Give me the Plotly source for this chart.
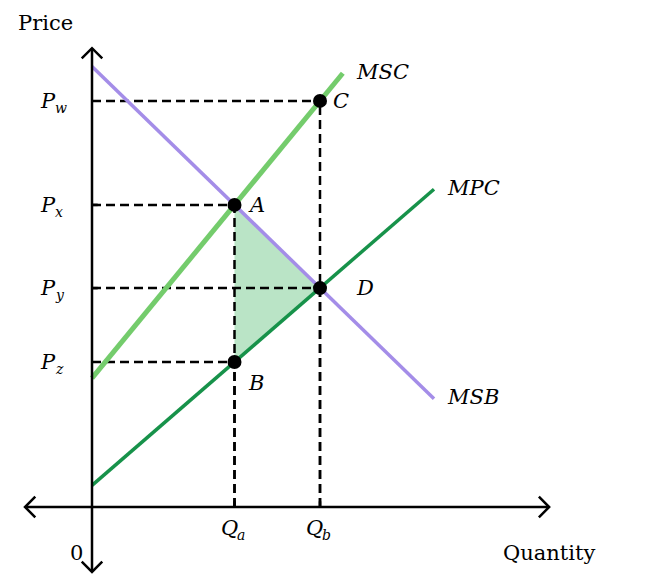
import plotly.graph_objects as go

# ---- data (diagram units) ----
quantities = {"Q_a": 5.0, "Q_b": 8.0}
prices = {"P_w": 14.25, "P_x": 10.6, "P_y": 7.68, "P_z": 5.09}

msb_x = [0.0, 12.0]
msb_y = [15.46, 3.80]
msc_x = [0.0, 8.8]
msc_y = [4.52, 15.22]
mpc_x = [0.0, 12.0]
mpc_y = [0.76, 11.15]

points = {"A": ("Q_a", "P_x"), "B": ("Q_a", "P_z"), "C": ("Q_b", "P_w"), "D": ("Q_b", "P_y")}

x_axis_extent = [-2.35, 16.04]
y_axis_extent = [-2.28, 16.1]

FONT = "DejaVu Serif"
BLACK = "#000000"
PURPLE = "#a48de8"
LIGHTGREEN = "#74cc6c"
DARKGREEN = "#17924a"
FILL = "rgba(140, 210, 160, 0.6)"

fig = go.Figure()

# welfare-loss triangle A-D-B
tri = ["A", "D", "B", "A"]
fig.add_trace(go.Scatter(
    x=[quantities[points[p][0]] for p in tri],
    y=[prices[points[p][1]] for p in tri],
    fill="toself", fillcolor=FILL, mode="lines", line=dict(width=0),
    hoverinfo="skip", showlegend=False))

# dashed guides
dash = "9px,5px"
for name, (q, p) in points.items():
    xq, yp = quantities[q], prices[p]
    fig.add_trace(go.Scatter(x=[0, xq], y=[yp, yp], mode="lines",
                             line=dict(color=BLACK, width=2.5, dash=dash),
                             hoverinfo="skip", showlegend=False))
    fig.add_trace(go.Scatter(x=[xq, xq], y=[0, yp], mode="lines",
                             line=dict(color=BLACK, width=2.5, dash=dash),
                             hoverinfo="skip", showlegend=False))

# curves
fig.add_trace(go.Scatter(x=msc_x, y=msc_y, mode="lines",
                         line=dict(color=LIGHTGREEN, width=5), showlegend=False))
fig.add_trace(go.Scatter(x=msb_x, y=msb_y, mode="lines",
                         line=dict(color=PURPLE, width=3.5), showlegend=False))
fig.add_trace(go.Scatter(x=mpc_x, y=mpc_y, mode="lines",
                         line=dict(color=DARKGREEN, width=3.5), showlegend=False))

# axes with open arrowheads
h = 0.36
ax_x = [x_axis_extent[0] + h, x_axis_extent[0], x_axis_extent[0] + h, None,
        x_axis_extent[0], x_axis_extent[1], None,
        x_axis_extent[1] - h, x_axis_extent[1], x_axis_extent[1] - h]
ax_y = [h, 0, -h, None, 0, 0, None, h, 0, -h]
fig.add_trace(go.Scatter(x=ax_x, y=ax_y, mode="lines",
                         line=dict(color=BLACK, width=2.5), hoverinfo="skip", showlegend=False))
ay_x = [-h, 0, h, None, 0, 0, None, -h, 0, h]
ay_y = [y_axis_extent[1] - h, y_axis_extent[1], y_axis_extent[1] - h, None,
        y_axis_extent[1], y_axis_extent[0], None,
        y_axis_extent[0] + h, y_axis_extent[0], y_axis_extent[0] + h]
fig.add_trace(go.Scatter(x=ay_x, y=ay_y, mode="lines",
                         line=dict(color=BLACK, width=2.5), hoverinfo="skip", showlegend=False))

# small ticks
tk = 0.2
tx, ty = [], []
for q in quantities.values():
    tx += [q, q, None]; ty += [0, tk, None]
for p in ("P_x", "P_y"):
    tx += [0, tk, None]; ty += [prices[p], prices[p], None]
fig.add_trace(go.Scatter(x=tx, y=ty, mode="lines", line=dict(color=BLACK, width=2.5),
                         hoverinfo="skip", showlegend=False))

# points
fig.add_trace(go.Scatter(
    x=[quantities[q] for q, p in points.values()],
    y=[prices[p] for q, p in points.values()],
    mode="markers", marker=dict(color=BLACK, size=14), showlegend=False))

ann = []
def label(x, y, text, size=21, xanchor="center", yanchor="middle", italic=True,
          xshift=0, yshift=0):
    ann.append(dict(x=x, y=y, text=text, showarrow=False, xanchor=xanchor, yanchor=yanchor,
                    xshift=xshift, yshift=yshift,
                    font=dict(family=FONT, size=size, color=BLACK,
                              style="italic" if italic else "normal")))

SUB = 14
# price labels: main letter + separate subscript
for p, val in prices.items():
    main, sub = p.split("_")
    label(-1.26, val, main, xanchor="right", xshift=2)
    label(-1.26, val, sub, size=SUB, xanchor="left", xshift=-3, yshift=-7)
# quantity labels
for q, val in quantities.items():
    main, sub = q.split("_")
    label(val, -0.72, main, xanchor="right", xshift=5)
    label(val, -0.72, sub, size=SUB, xanchor="left", xshift=0, yshift=-7)
# point labels
offs = {"A": (0.4, 0.0), "B": (0.4, -0.75), "C": (0.4, 0.0), "D": (1.2, 0.0)}
for name, (q, p) in points.items():
    dx, dy = offs[name]
    label(quantities[q] + dx, prices[p] + dy, name, xanchor="left")
# curve labels
label(msc_x[1] + 0.4, msc_y[1] + 0.05, "MSC", xanchor="left")
label(mpc_x[1] + 0.4, mpc_y[1] + 0.05, "MPC", xanchor="left")
label(msb_x[1] + 0.4, msb_y[1] + 0.05, "MSB", xanchor="left")
# axis titles
label(-1.62, 17.0, "Price", italic=False)
label(16.03, -1.6, "Quantity", italic=False)
label(-0.56, -1.6, "0", italic=False)

# page has an 8px body margin: figure spans pixels 8..647 x 8..577
fig.update_layout(
    width=639, height=569, autosize=False,
    margin=dict(l=0, r=0, t=0, b=0),
    paper_bgcolor="white", plot_bgcolor="white",
    xaxis=dict(range=[(8 - 92) / 28.5, (647 - 92) / 28.5], visible=False, fixedrange=True),
    yaxis=dict(range=[(507 - 577) / 28.5, (507 - 8) / 28.5], visible=False, fixedrange=True),
    annotations=ann,
)

fig.write_html("out.html")
